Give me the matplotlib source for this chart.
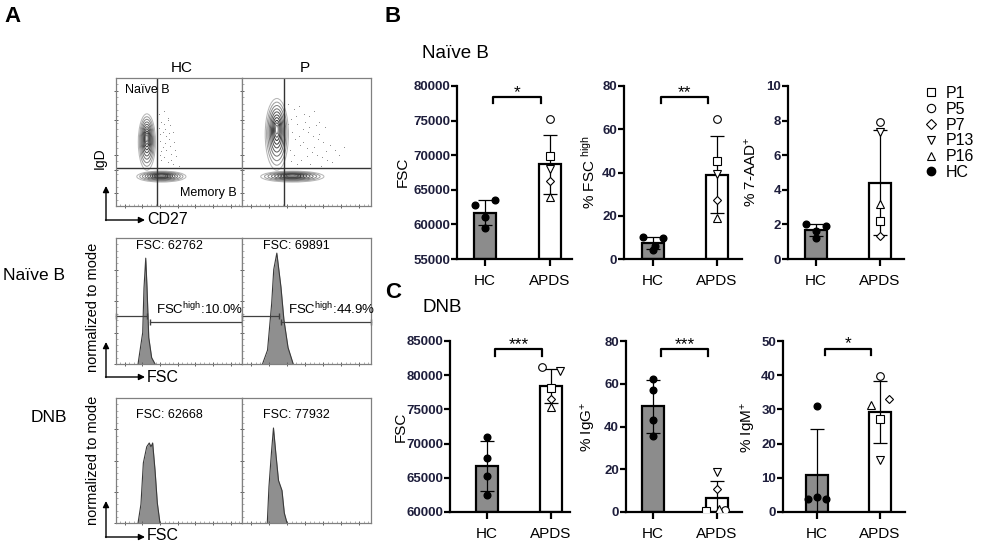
import numpy as np
import matplotlib
matplotlib.use('Agg')
import matplotlib.pyplot as plt
from matplotlib.patches import Ellipse
from matplotlib.lines import Line2D

plt.rcParams['font.family'] = ['Liberation Sans', 'DejaVu Sans']
plt.rcParams['mathtext.default'] = 'regular'

W, H = 984, 541

# ---- data ----
groups = ['HC', 'APDS']
patients = ['P1', 'P5', 'P7', 'P13', 'P16']
patient_markers = ['s', 'o', 'D', 'v', '^']

# B: naive B (HC points, then APDS points in order P1, P5, P7, P13, P16)
naive_fsc_hc = [62800, 63500, 61000, 59500]
naive_fsc_apds = [69900, 75200, 66200, 68000, 64000]
naive_fschigh_hc = [10.2, 9.6, 6.0, 4.2]
naive_fschigh_apds = [45.3, 64.6, 27.3, 39.3, 18.8]
naive_7aad_hc = [2.0, 1.9, 1.6, 1.2]
naive_7aad_apds = [2.2, 7.94, 1.35, 7.32, 3.2]
# C: DNB
dnb_fsc_hc = [71000, 67950, 65300, 62500]
dnb_fsc_apds = [78200, 81200, 76500, 80600, 75400]
dnb_igg_hc = [62.3, 56.9, 42.9, 35.7]
dnb_igg_apds = [0.3, 1.0, 10.9, 18.6, 1.3]
dnb_igm_hc = [31.1, 3.7, 4.5, 3.7]
dnb_igm_apds = [27.2, 39.7, 33.0, 15.1, 31.3]

# A: flow plots (units 0-100 inside each box)
hc_gate = (32.5, 30)
p_gate = (32.5, 30)
# blobs: cx, cy, rx, ry
hc_blobs = [(24.5, 50, 6.8, 22), (36, 23, 19.5, 4.3)]
p_blobs = [(27, 56, 9, 28), (39, 23, 24.5, 4.3)]
hc_dots_x = [34, 36, 38, 41, 43, 45, 35, 39, 42, 46, 37, 40, 44, 48, 36, 41, 45, 50, 38, 43,
             47, 35, 40, 34, 37, 39, 42, 36, 44, 38, 41, 35]
hc_dots_y = [72, 66, 74, 69, 63, 58, 56, 60, 52, 50, 46, 44, 41, 39, 36, 34, 33, 31, 64, 47,
             44, 40, 55, 61, 58, 49, 57, 43, 36, 38, 67, 51]
p_dots_x = [36, 40, 44, 48, 52, 56, 60, 64, 38, 43, 47, 51, 55, 59, 63, 68, 72, 41, 45, 50,
            54, 58, 62, 66, 70, 37, 46, 53, 61, 75, 79, 57, 39, 42, 49, 52, 44, 47, 56, 60,
            65, 36, 40, 50, 38, 43]
p_dots_y = [80, 76, 78, 72, 70, 74, 66, 62, 68, 64, 60, 58, 55, 52, 50, 48, 44, 52, 48, 45,
            42, 40, 38, 36, 34, 44, 36, 33, 31, 40, 46, 63, 58, 70, 66, 62, 55, 50, 46, 56,
            43, 64, 40, 39, 35, 33]

# histograms (x units 0-100, heights 0-100)
naive_hc_x = [17.5, 21.2, 22.2, 23.6, 24.6, 26.0, 28.3, 31.0]
naive_hc_h = [0, 25, 60, 84, 61, 21, 5, 0]
naive_p_x = [15.9, 19.8, 23.0, 24.6, 27.0, 30.2, 32.5, 35.7, 39.7]
naive_p_h = [0, 11, 48, 75, 88, 61, 35, 13, 0]
dnb_hc_x = [17.5, 19.8, 21.7, 24.4, 26.4, 27.8, 29.1, 31.0, 32.8, 34.9]
dnb_hc_h = [0, 15, 48, 61, 64, 61, 64, 42, 16, 0]
dnb_p_x = [19.6, 20.9, 22.8, 24.4, 26.2, 28.3, 31.0, 32.8, 34.9]
dnb_p_h = [0, 29, 56, 76, 56, 34, 26, 8, 0]
naive_fsc_mfi = ['62762', '69891']
dnb_fsc_mfi = ['62668', '77932']
fschigh_pct = ['10.0%', '44.9%']
fschigh_gate_hc = (24.6, 27.0)
fschigh_gate_p = (28.6, 30.0)

fig = plt.figure(figsize=(W / 100, H / 100), dpi=100)


def px_axes(left, top, right, bottom):
    return fig.add_axes([left / W, 1 - bottom / H, (right - left) / W, (bottom - top) / H])


def flow_box(left, top, right, bottom):
    ax = px_axes(left, top, right, bottom)
    ax.set_xlim(0, 100)
    ax.set_ylim(0, 100)
    for s in ax.spines.values():
        s.set_color('#808080')
        s.set_linewidth(0.9)
    ax.set_xticks(np.arange(7, 100, 14))
    ax.set_xticks(np.arange(0, 100, 3.5), minor=True)
    ax.set_yticks([10, 28, 40, 67, 90])
    ax.set_yticks(np.arange(0, 100, 5), minor=True)
    ax.tick_params(which='major', direction='inout', length=3, width=0.7, color='#606060',
                   labelbottom=False, labelleft=False)
    ax.tick_params(which='minor', direction='in', length=1.5, width=0.5, color='#909090')
    return ax


def contour_blob(ax, cx, cy, rx, ry):
    scales = [1.0, 0.88, 0.77, 0.66, 0.56, 0.46, 0.37, 0.28, 0.2, 0.12]
    greys = ['#b8b8b8', '#a0a0a0', '#8a8a8a', '#767676', '#626262', '#525252', '#444444',
             '#3a3a3a', '#555555', '#7a7a7a']
    for s, c in zip(scales, greys):
        ax.add_patch(Ellipse((cx, cy + ry * (1 - s) * 0.15), 2 * rx * s, 2 * ry * s,
                             fill=False, ec=c, lw=0.75))


# top dot plots
for left, right, blobs, gate, dx, dy in [(116, 242, hc_blobs, hc_gate, hc_dots_x, hc_dots_y),
                                          (242, 371, p_blobs, p_gate, p_dots_x, p_dots_y)]:
    ax = flow_box(left, 78, right, 206)
    ax.scatter(dx, dy, s=0.5, color='#8a8a8a', lw=0)
    for b in blobs:
        contour_blob(ax, *b)
    ax.axvline(gate[0], color='#333333', lw=1.0)
    ax.axhline(gate[1], color='#333333', lw=1.0)
    if left == 116:
        ax.text(7, 91, 'Naïve B', fontsize=9, va='center')
        ax.text(96, 10, 'Memory B', fontsize=9, ha='right', va='center')

# histograms
hist_rows = [(238, 364, [(naive_hc_x, naive_hc_h), (naive_p_x, naive_p_h)], naive_fsc_mfi, 94, True),
             (398, 523, [(dnb_hc_x, dnb_hc_h), (dnb_p_x, dnb_p_h)], dnb_fsc_mfi, 86, False)]
for top, bottom, hists, mfi, ty, gated in hist_rows:
    for i, (left, right) in enumerate([(116, 242), (242, 371)]):
        ax = flow_box(left, top, right, bottom)
        ax.set_yticks([0, 25, 50, 75])
        hx, hh = hists[i]
        ax.fill_between(hx, hh, color='#8f8f8f', lw=0)
        ax.plot(hx, hh, color='#3a3a3a', lw=0.8)
        ax.text(16, ty, 'FSC: ' + mfi[i], fontsize=9, va='center')
        if gated:
            g = fschigh_gate_hc if i == 0 else fschigh_gate_p
            ax.plot([0, g[0]], [38, 38], color='#404040', lw=0.9, marker='|', ms=4, clip_on=False)
            ax.plot([g[1], 100], [33, 33], color='#404040', lw=0.9, marker='|', ms=4, clip_on=False)
            ax.text(g[1] + 5 if i == 0 else g[1] + 6, 44, 'FSC$^{high}$:' + fschigh_pct[i],
                    fontsize=9.5, va='center')


def bar_panel(left, top, right, bottom, hc_px, apds_px, hc_vals, apds_vals, ylim, yticks,
              stars=None, bracket=None, jit_hc=None, jit_apds=None):
    ax = px_axes(left, top, right, bottom)
    scale = apds_px - hc_px
    ax.set_xlim((left - hc_px) / scale, (right - hc_px) / scale)
    ax.set_ylim(*ylim)
    means = [np.mean(hc_vals), np.mean(apds_vals)]
    sds = [np.std(hc_vals, ddof=1), np.std(apds_vals, ddof=1)]
    base = ylim[0]
    ax.bar([0, 1], [m - base for m in means], bottom=base, width=0.34,
           color=['#8c8c8c', 'white'], edgecolor='black', linewidth=1.6, zorder=2)
    ax.errorbar([0, 1], means, yerr=sds, fmt='none', ecolor='black', elinewidth=0.9,
                capsize=5, capthick=0.9, zorder=3)
    jit_hc = jit_hc or [0] * len(hc_vals)
    jit_apds = jit_apds or [0] * len(apds_vals)
    for v, j in zip(hc_vals, jit_hc):
        ax.plot(j, v, 'o', color='black', ms=4.8, zorder=4)
    for v, j, m in zip(apds_vals, jit_apds, patient_markers):
        ax.plot(1 + j, v, m, mfc='white', mec='black', mew=0.8,
                ms=4.5 if m == 'D' else 5.5, zorder=4)
    if bracket:
        ytop, ydrop = bracket
        ax.plot([0.12, 0.12, 0.86, 0.86], [ydrop, ytop, ytop, ydrop], color='black', lw=1.6,
                clip_on=False)
        ax.text(0.49, ytop, stars, ha='center', va='baseline', fontsize=12.5)
    for s in ['top', 'right']:
        ax.spines[s].set_visible(False)
    for s in ['left', 'bottom']:
        ax.spines[s].set_linewidth(1.6)
    ax.set_yticks(yticks)
    ax.set_xticks([0, 1])
    ax.set_xticklabels(groups, fontsize=11)
    ax.tick_params(axis='y', length=4, width=1.6, labelsize=9.5, pad=1, labelcolor='#1e1e3c')
    ax.tick_params(axis='x', length=5, width=1.6, pad=6)
    for lbl in ax.get_yticklabels():
        lbl.set_fontweight('bold')
    return ax


bar_panel(457, 86, 572, 259, 485, 550, naive_fsc_hc, naive_fsc_apds, (55000, 80000),
          range(55000, 80001, 5000), '*', (78450, 77500), jit_hc=[-0.15, 0.15, 0, 0])
bar_panel(624, 86, 742, 259, 653, 717, naive_fschigh_hc, naive_fschigh_apds, (0, 80),
          range(0, 81, 20), '**', (75, 72), jit_hc=[-0.15, 0.15, 0.03, 0])
bar_panel(788, 86, 904, 259, 816, 880, naive_7aad_hc, naive_7aad_apds, (0, 10),
          range(0, 11, 2), jit_hc=[-0.15, 0.15, 0, 0])
bar_panel(450, 341, 570, 512, 487, 551, dnb_fsc_hc, dnb_fsc_apds, (60000, 85000),
          range(60000, 85001, 5000), '***', (83800, 82800), jit_apds=[0, -0.14, 0, 0.14, 0])
bar_panel(626, 341, 742, 512, 653, 717, dnb_igg_hc, dnb_igg_apds, (0, 80),
          range(0, 81, 20), '***', (76.3, 73), jit_apds=[-0.17, 0.12, 0, 0, 0.03])
bar_panel(783, 341, 905, 512, 817, 880, dnb_igm_hc, dnb_igm_apds, (0, 50),
          range(0, 51, 10), '*', (47.8, 45.8), jit_hc=[0, -0.15, 0, 0.15],
          jit_apds=[0, 0, 0.15, 0, -0.15])

# legend
handles = [Line2D([], [], marker=m, ls='none', mfc='white', mec='black', mew=0.8,
                  ms=6 if m != 'D' else 5) for m in patient_markers]
handles.append(Line2D([], [], marker='o', ls='none', color='black', ms=6))
fig.legend(handles, patients + ['HC'], loc='upper left', bbox_to_anchor=(925 / W, 1 - 86 / H),
           frameon=False, fontsize=11.5, handlelength=0.8, handletextpad=0.5, labelspacing=0.05,
           borderaxespad=0, borderpad=0)

# overlay text and arrows in pixel coordinates
ov = fig.add_axes([0, 0, 1, 1])
ov.set_xlim(0, W)
ov.set_ylim(H, 0)
ov.axis('off')
ov.text(4, 17, 'A', fontsize=16, fontweight='bold', va='center')
ov.text(385, 17, 'B', fontsize=16, fontweight='bold', va='center')
ov.text(385, 292, 'C', fontsize=16, fontweight='bold', va='center')
ov.text(182, 68, 'HC', fontsize=11, ha='center', va='center')
ov.text(305, 68, 'P', fontsize=11, ha='center', va='center')
ov.text(100, 158, 'IgD', fontsize=10, rotation=90, ha='center', va='center')
ov.text(147, 220, 'CD27', fontsize=11.5, va='center')
ov.text(3, 275, 'Naïve B', fontsize=12.5, va='center')
ov.text(49, 417, 'DNB', fontsize=12.5, ha='center', va='center')
ov.text(93, 307, 'normalized to mode', fontsize=10.5, rotation=90, ha='center', va='center')
ov.text(93, 460, 'normalized to mode', fontsize=10.5, rotation=90, ha='center', va='center')
ov.text(147, 377, 'FSC', fontsize=11.5, va='center')
ov.text(147, 535, 'FSC', fontsize=11.5, va='center')
ov.text(422, 53, 'Naïve B', fontsize=13.5, va='center')
ov.text(422, 308, 'DNB', fontsize=13.5, va='center')

ylabels = [(403, 172, 'FSC'), (589, 172, '% FSC $^{high}$'), (751, 172, '% 7-AAD$^{+}$'),
           (401, 427, 'FSC'), (589, 427, '% IgG$^{+}$'), (748, 427, '% IgM$^{+}$')]
for x, y, t in ylabels:
    ov.text(x, y, t, fontsize=11, rotation=90, ha='center', va='center')

arrow = dict(arrowstyle='-|>', color='black', lw=1.0, mutation_scale=9, shrinkA=0, shrinkB=0)
for cy, ty in [(220, 186), (377, 342), (537, 501)]:
    ov.annotate('', xy=(106, ty), xytext=(106, cy + 0.5), arrowprops=arrow)
    ov.annotate('', xy=(145, cy), xytext=(105.5, cy), arrowprops=arrow)

fig.savefig('out.png', dpi=100)
